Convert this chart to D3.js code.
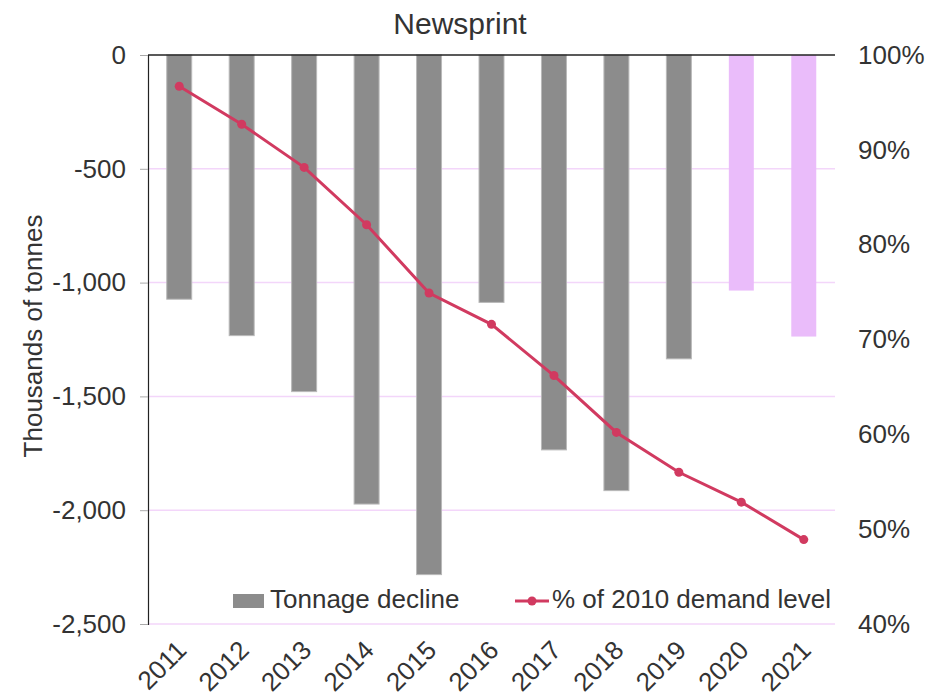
<!DOCTYPE html>
<html>
<head>
<meta charset="utf-8">
<script src="https://cdn.jsdelivr.net/npm/d3@7"></script>
<style>
  html, body { margin: 0; padding: 0; background: #fff; }
  svg { display: block; font-family: "Liberation Sans", Arial, sans-serif; }
</style>
</head>
<body>
<svg id="chart" width="939" height="699"></svg>
<script>
// Annual newsprint demand change, with forecast years shown in a lighter colour
const years = ["2011","2012","2013","2014","2015","2016","2017","2018","2019","2020","2021"];
const tonnageDecline = [-1073, -1233, -1479, -1973, -2283, -1087, -1735, -1914, -1335, -1035, -1237];
const forecast = [false, false, false, false, false, false, false, false, false, true, true];
const pctOf2010 = [96.7, 92.7, 88.15, 82.1, 74.9, 71.6, 66.2, 60.2, 56.0, 52.85, 48.9];
const leftTicks = [0, -500, -1000, -1500, -2000, -2500];
const rightTicks = [100, 90, 80, 70, 60, 50, 40];

const svg = d3.select("#chart");
const plot = { left: 148, right: 835, top: 55, bottom: 624 };
const FONT = "Liberation Sans, Arial, sans-serif";
const TXT = "#333";

const x = d3.scaleBand().domain(years).range([plot.left, plot.right]).paddingInner(0.6).paddingOuter(0.3);
const yL = d3.scaleLinear().domain([-2500, 0]).range([plot.bottom, plot.top]);
const yR = d3.scaleLinear().domain([40, 100]).range([plot.bottom, plot.top]);
// thousands separator with a plain hyphen for negatives
const fmt = d3.formatLocale({ decimal: ".", thousands: ",", grouping: [3], currency: ["", ""], minus: "-" }).format(",");

// Gridlines
svg.append("g")
  .selectAll("line")
  .data(leftTicks.filter(d => d !== 0))
  .join("line")
  .attr("x1", plot.left).attr("x2", plot.right)
  .attr("y1", d => yL(d)).attr("y2", d => yL(d))
  .attr("stroke", "#f3d6fa").attr("stroke-width", 1.5);

// Left axis
const gL = svg.append("g").attr("transform", `translate(${plot.left},0)`)
  .call(d3.axisLeft(yL).tickValues(leftTicks).tickSize(8).tickPadding(14).tickFormat(d => fmt(d)));
gL.attr("font-family", FONT).attr("font-size", 26);
gL.select(".domain").attr("stroke", "#222").attr("stroke-width", 1.2);
gL.selectAll(".tick line").attr("stroke", "#aaa");
gL.selectAll(".tick text").attr("fill", TXT);

// Right axis (labels only)
const gR = svg.append("g").attr("transform", `translate(${plot.right},0)`)
  .call(d3.axisRight(yR).tickValues(rightTicks).tickSize(0).tickPadding(23).tickFormat(d => d + "%"));
gR.attr("font-family", FONT).attr("font-size", 26);
gR.select(".domain").remove();
gR.selectAll(".tick text").attr("fill", TXT);

// Bars
svg.append("g")
  .selectAll("rect")
  .data(years.map((y, i) => ({ year: y, v: tonnageDecline[i], f: forecast[i] })))
  .join("rect")
  .attr("x", d => x(d.year))
  .attr("width", x.bandwidth())
  .attr("y", yL(0))
  .attr("height", d => yL(d.v) - yL(0))
  .attr("fill", d => d.f ? "#eabcfa" : "#8c8c8c")
  .attr("stroke", d => d.f ? "none" : "#b9b9b9")
  .attr("stroke-width", 1);

// Zero line along the top
svg.append("line")
  .attr("x1", plot.left).attr("x2", plot.right)
  .attr("y1", yL(0)).attr("y2", yL(0))
  .attr("stroke", "#222").attr("stroke-width", 1.5);

// Line series on the right axis
const lineColor = "#d13a60";
const pts = years.map((y, i) => ({ year: y, p: pctOf2010[i] }));
svg.append("path")
  .datum(pts)
  .attr("fill", "none")
  .attr("stroke", lineColor)
  .attr("stroke-width", 3)
  .attr("d", d3.line().x(d => x(d.year) + x.bandwidth() / 2).y(d => yR(d.p)));
svg.append("g")
  .selectAll("circle")
  .data(pts)
  .join("circle")
  .attr("cx", d => x(d.year) + x.bandwidth() / 2)
  .attr("cy", d => yR(d.p))
  .attr("r", 4.5)
  .attr("fill", lineColor);

// Category labels, rotated
svg.append("g")
  .selectAll("text")
  .data(years)
  .join("text")
  .attr("transform", d => `translate(${x(d) + x.bandwidth() / 2 - 2},${641}) rotate(-45)`)
  .attr("text-anchor", "end")
  .attr("dominant-baseline", "hanging")
  .attr("dy", "-0.15em")
  .attr("font-size", 26)
  .attr("fill", TXT)
  .text(d => d);

// Title
svg.append("text")
  .attr("x", 460).attr("y", 34)
  .attr("text-anchor", "middle")
  .attr("font-size", 30)
  .attr("fill", TXT)
  .text("Newsprint");

// Left axis title
svg.append("text")
  .attr("transform", `translate(42,336) rotate(-90)`)
  .attr("text-anchor", "middle")
  .attr("font-size", 26)
  .attr("fill", TXT)
  .text("Thousands of tonnes");

// Legend
const lg = svg.append("g");
lg.append("rect").attr("x", 233).attr("y", 594).attr("width", 31).attr("height", 14).attr("fill", "#8c8c8c");
lg.append("text").attr("x", 270).attr("y", 608).attr("font-size", 26).attr("fill", TXT).text("Tonnage decline");
lg.append("line").attr("x1", 515).attr("x2", 549).attr("y1", 601).attr("y2", 601).attr("stroke", lineColor).attr("stroke-width", 3);
lg.append("circle").attr("cx", 532).attr("cy", 601).attr("r", 4.5).attr("fill", lineColor);
lg.append("text").attr("x", 552).attr("y", 608).attr("font-size", 26).attr("fill", TXT).text("% of 2010 demand level");
</script>
</body>
</html>
